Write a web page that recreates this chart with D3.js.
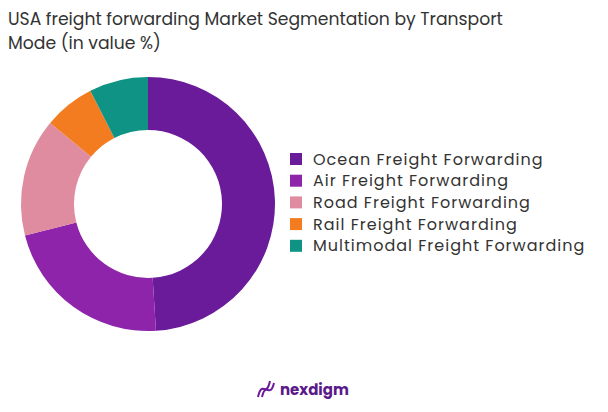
<!DOCTYPE html>
<html><head><meta charset="utf-8">
<script src="https://cdn.jsdelivr.net/npm/d3@7"></script>
<style>body{margin:0;background:#fff}</style></head>
<body><svg id="c" width="608" height="412"></svg>
<script>
const categories=["Ocean Freight Forwarding","Air Freight Forwarding","Road Freight Forwarding","Rail Freight Forwarding","Multimodal Freight Forwarding"];
const values=[49,22,15,6.5,7.5];
const colors=["#6a1b9a","#8e24aa","#e08ca0","#f47c20","#0e9384"];
const titleLines=["USA freight forwarding Market Segmentation by Transport","Mode (in value %)"];
const svg=d3.select("#c");
svg.selectAll("text.t").data(titleLines).join("text").attr("class","t")
 .attr("x",8).attr("y",(d,i)=>25+i*24).attr("font-family","Poppins, 'Open Sans', sans-serif")
 .attr("font-size",17.2).attr("fill","#333").text(d=>d);
const pie=d3.pie().sort(null).value(d=>d)(values);
const arc=d3.arc().innerRadius(74).outerRadius(127);
const g=svg.append("g").attr("transform","translate(148,204)");
g.selectAll("path").data(pie).join("path").attr("d",arc).attr("fill",(d,i)=>colors[i]);
const lg=svg.append("g").attr("transform","translate(290,159)");
const row=lg.selectAll("g").data(categories).join("g").attr("transform",(d,i)=>`translate(0,${i*21.7})`);
row.append("rect").attr("x",0).attr("y",-6).attr("width",12).attr("height",12).attr("fill",(d,i)=>colors[i]);
row.append("text").attr("x",23).attr("y",5.5).attr("font-family","Poppins, 'Open Sans', sans-serif").attr("font-size",16).attr("letter-spacing",1).attr("fill","#333").text(d=>d);
const logo=svg.append("g").attr("transform","translate(258,389)");
logo.append("path").attr("d","M0,8 C4,-10 8,10 12,-8 M4,8 C8,-8 12,10 16,-6").attr("stroke","#6a1b9a").attr("stroke-width",2).attr("fill","none");
logo.append("text").attr("x",22).attr("y",6).attr("font-family","Poppins, 'Open Sans', sans-serif").attr("font-weight","bold").attr("font-size",15).attr("fill","#5a1a8a").text("nexdigm");
</script></body></html>
